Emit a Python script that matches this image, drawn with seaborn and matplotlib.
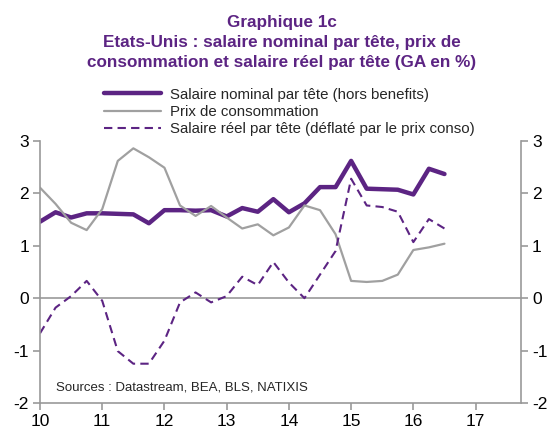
import numpy as np
import pandas as pd
import seaborn as sns
import matplotlib.pyplot as plt

sns.set_style("white")
plt.rcParams['font.family'] = ['Liberation Sans', 'DejaVu Sans']
plt.rcParams['axes.unicode_minus'] = False

# quarterly, 2010Q1 .. 2016Q3 (x in years since 2000)
quarters = np.arange(10.0, 16.51, 0.25)
salaire_nominal = [1.46, 1.64, 1.54, 1.62, 1.62, 1.61, 1.60, 1.43, 1.68, 1.68, 1.67, 1.68, 1.56, 1.72,
                   1.65, 1.89, 1.64, 1.81, 2.12, 2.12, 2.62, 2.09, 2.08, 2.07, 1.98, 2.47, 2.37]
prix_conso = [2.11, 1.80, 1.44, 1.30, 1.70, 2.62, 2.86, 2.69, 2.49, 1.77, 1.57, 1.76, 1.54, 1.33,
              1.41, 1.20, 1.35, 1.77, 1.68, 1.22, 0.33, 0.31, 0.33, 0.45, 0.92, 0.97, 1.04]
salaire_reel = [-0.67, -0.18, 0.04, 0.33, -0.05, -1.01, -1.25, -1.25, -0.81, -0.08, 0.11, -0.08, 0.04, 0.41,
                0.25, 0.69, 0.30, 0.00, 0.45, 0.90, 2.28, 1.77, 1.74, 1.65, 1.07, 1.51, 1.33]

labels = ["Salaire nominal par tête (hors benefits)",
          "Prix de consommation",
          "Salaire réel par tête (déflaté par le prix conso)"]

df = pd.DataFrame({"x": quarters, "nom": salaire_nominal, "prix": prix_conso, "reel": salaire_reel})

purple = "#5C2483"
grey = "#A0A0A0"

fig = plt.figure(figsize=(5.5, 4.28), dpi=100)
ax = fig.add_axes([40 / 550, 25 / 428, 481 / 550, 262 / 428])

ax.axhline(0, color="#999999", lw=1.2, zorder=1)
sns.lineplot(data=df, x="x", y="nom", ax=ax, color=purple, lw=3.2, label=labels[0])
sns.lineplot(data=df, x="x", y="prix", ax=ax, color=grey, lw=1.6, label=labels[1])
sns.lineplot(data=df, x="x", y="reel", ax=ax, color=purple, lw=1.5, label=labels[2])
ax.lines[-1].set_dashes([4, 2.5])

ax.set_xlim(10, 17.73)
ax.set_ylim(-2, 3)
ax.set_xticks(range(10, 18))
ax.set_yticks(range(-2, 4))
ax.set_xlabel("")
ax.set_ylabel("")
for s in ["left", "right", "bottom"]:
    ax.spines[s].set_color("#999999")
    ax.spines[s].set_linewidth(1.2)
ax.spines["top"].set_visible(False)
ax.tick_params(axis="both", direction="out", length=5, width=1.2, color="#999999",
               labelsize=12.5, labelcolor="black", pad=3)
ax.tick_params(axis="y", right=True, labelright=True, left=True)
ax.tick_params(axis="x", bottom=True)

handles, labs = ax.get_legend_handles_labels()
ax.get_legend().remove()
fig.legend(handles, labs, loc="upper left", bbox_to_anchor=(96 / 550, 1 - 80 / 428),
           frameon=False, fontsize=10.8, handlelength=3.8, handletextpad=0.65,
           labelspacing=0.22, borderpad=0)

fig.text(282 / 550, 1 - 22 / 428, "Graphique 1c", ha="center", va="center",
         color=purple, fontsize=12.3, fontweight="bold")
fig.text(282 / 550, 1 - 43 / 428, "Etats-Unis : salaire nominal par tête, prix de", ha="center",
         va="center", color=purple, fontsize=12.3, fontweight="bold")
fig.text(282 / 550, 1 - 63 / 428, "consommation et salaire réel par tête (GA en %)", ha="center",
         va="center", color=purple, fontsize=12.3, fontweight="bold")

ax.text(10.25, -1.7, "Sources : Datastream, BEA, BLS, NATIXIS", fontsize=9.5, va="center")

fig.savefig("out.png", dpi=100)
